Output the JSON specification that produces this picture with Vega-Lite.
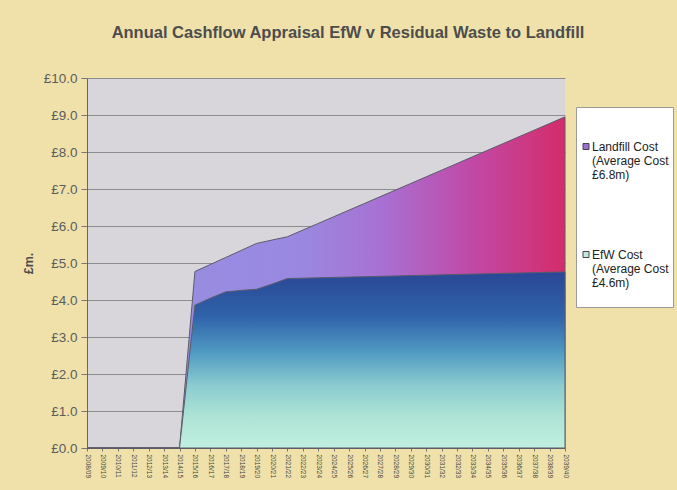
{
  "$schema": "https://vega.github.io/schema/vega-lite/v6.json",
  "autosize": "none",
  "width": 478,
  "height": 370,
  "padding": {"left": 87, "top": 78, "right": 112, "bottom": 42},
  "background": "#f0e1aa",
  "title": {
    "text": "Annual Cashflow Appraisal EfW v Residual Waste to Landfill",
    "anchor": "middle",
    "frame": "group",
    "dx": 22,
    "offset": 30,
    "font": "Liberation Sans",
    "fontSize": 16.5,
    "fontWeight": "bold",
    "color": "#4d4d4d"
  },
  "config": {
    "view": {"stroke": null, "fill": "#d8d6db"},
    "font": "Liberation Sans"
  },
  "data": {
    "values": [
      {"year": "2008/09", "series": "Landfill", "cost": 0},
      {"year": "2009/10", "series": "Landfill", "cost": 0},
      {"year": "2010/11", "series": "Landfill", "cost": 0},
      {"year": "2011/12", "series": "Landfill", "cost": 0},
      {"year": "2012/13", "series": "Landfill", "cost": 0},
      {"year": "2013/14", "series": "Landfill", "cost": 0},
      {"year": "2014/15", "series": "Landfill", "cost": 0},
      {"year": "2015/16", "series": "Landfill", "cost": 4.77},
      {"year": "2016/17", "series": "Landfill", "cost": 4.96},
      {"year": "2017/18", "series": "Landfill", "cost": 5.15},
      {"year": "2018/19", "series": "Landfill", "cost": 5.34},
      {"year": "2019/20", "series": "Landfill", "cost": 5.53},
      {"year": "2020/21", "series": "Landfill", "cost": 5.62},
      {"year": "2021/22", "series": "Landfill", "cost": 5.71},
      {"year": "2022/23", "series": "Landfill", "cost": 5.89},
      {"year": "2023/24", "series": "Landfill", "cost": 6.07},
      {"year": "2024/25", "series": "Landfill", "cost": 6.25},
      {"year": "2025/26", "series": "Landfill", "cost": 6.43},
      {"year": "2026/27", "series": "Landfill", "cost": 6.61},
      {"year": "2027/28", "series": "Landfill", "cost": 6.79},
      {"year": "2028/29", "series": "Landfill", "cost": 6.97},
      {"year": "2029/30", "series": "Landfill", "cost": 7.15},
      {"year": "2030/31", "series": "Landfill", "cost": 7.33},
      {"year": "2031/32", "series": "Landfill", "cost": 7.51},
      {"year": "2032/33", "series": "Landfill", "cost": 7.69},
      {"year": "2033/34", "series": "Landfill", "cost": 7.87},
      {"year": "2034/35", "series": "Landfill", "cost": 8.05},
      {"year": "2035/36", "series": "Landfill", "cost": 8.23},
      {"year": "2036/37", "series": "Landfill", "cost": 8.41},
      {"year": "2037/38", "series": "Landfill", "cost": 8.59},
      {"year": "2038/39", "series": "Landfill", "cost": 8.77},
      {"year": "2039/40", "series": "Landfill", "cost": 8.95},
      {"year": "2008/09", "series": "EfW", "cost": 0},
      {"year": "2009/10", "series": "EfW", "cost": 0},
      {"year": "2010/11", "series": "EfW", "cost": 0},
      {"year": "2011/12", "series": "EfW", "cost": 0},
      {"year": "2012/13", "series": "EfW", "cost": 0},
      {"year": "2013/14", "series": "EfW", "cost": 0},
      {"year": "2014/15", "series": "EfW", "cost": 0},
      {"year": "2015/16", "series": "EfW", "cost": 3.86},
      {"year": "2016/17", "series": "EfW", "cost": 4.05},
      {"year": "2017/18", "series": "EfW", "cost": 4.22},
      {"year": "2018/19", "series": "EfW", "cost": 4.26},
      {"year": "2019/20", "series": "EfW", "cost": 4.29},
      {"year": "2020/21", "series": "EfW", "cost": 4.43},
      {"year": "2021/22", "series": "EfW", "cost": 4.58},
      {"year": "2022/23", "series": "EfW", "cost": 4.59},
      {"year": "2023/24", "series": "EfW", "cost": 4.6},
      {"year": "2024/25", "series": "EfW", "cost": 4.61},
      {"year": "2025/26", "series": "EfW", "cost": 4.62},
      {"year": "2026/27", "series": "EfW", "cost": 4.63},
      {"year": "2027/28", "series": "EfW", "cost": 4.64},
      {"year": "2028/29", "series": "EfW", "cost": 4.65},
      {"year": "2029/30", "series": "EfW", "cost": 4.66},
      {"year": "2030/31", "series": "EfW", "cost": 4.67},
      {"year": "2031/32", "series": "EfW", "cost": 4.68},
      {"year": "2032/33", "series": "EfW", "cost": 4.69},
      {"year": "2033/34", "series": "EfW", "cost": 4.7},
      {"year": "2034/35", "series": "EfW", "cost": 4.71},
      {"year": "2035/36", "series": "EfW", "cost": 4.72},
      {"year": "2036/37", "series": "EfW", "cost": 4.73},
      {"year": "2037/38", "series": "EfW", "cost": 4.74},
      {"year": "2038/39", "series": "EfW", "cost": 4.75},
      {"year": "2039/40", "series": "EfW", "cost": 4.76}
    ]
  },
  "encoding": {
    "x": {
      "field": "year",
      "type": "ordinal",
      "sort": null,
      "scale": {"padding": 0},
      "axis": {
        "title": null,
        "labelAngle": 90,
        "labelFontSize": 6.5,
        "labelColor": "#454545",
        "labelPadding": 3,
        "tickSize": 3,
        "tickColor": "#777777",
        "domainColor": "#666666",
        "grid": false
      }
    },
    "y": {
      "field": "cost",
      "type": "quantitative",
      "scale": {"domain": [0, 10]},
      "axis": {
        "title": "£m.",
        "values": [0, 1, 2, 3, 4, 5, 6, 7, 8, 9, 10],
        "labelExpr": "'£' + format(datum.value, '.1f')",
        "labelFontSize": 13.5,
        "labelColor": "#5c5c5c",
        "labelPadding": 4,
        "tickSize": 6,
        "tickColor": "#777777",
        "domainColor": "#666666",
        "gridColor": "#8c8c8c",
        "gridWidth": 1,
        "titleFontSize": 12.5,
        "titleFontWeight": "bold",
        "titleColor": "#4d4d4d",
        "titlePadding": 8
      }
    }
  },
  "layer": [
    {
      "transform": [{"filter": "datum.series == 'Landfill'"}],
      "mark": {
        "type": "area",
        "fill": {
          "gradient": "linear",
          "x1": 0, "y1": 0, "x2": 1, "y2": 0,
          "stops": [
            {"offset": 0, "color": "#9590e2"},
            {"offset": 0.45, "color": "#9a88e0"},
            {"offset": 0.62, "color": "#a870d2"},
            {"offset": 0.8, "color": "#c04aa8"},
            {"offset": 1, "color": "#d42c6a"}
          ]
        },
        "stroke": "#5b5b6b",
        "strokeWidth": 1
      }
    },
    {
      "transform": [{"filter": "datum.series == 'EfW'"}],
      "mark": {
        "type": "area",
        "fill": {
          "gradient": "linear",
          "x1": 0, "y1": 0, "x2": 0, "y2": 1,
          "stops": [
            {"offset": 0, "color": "#2a4796"},
            {"offset": 0.25, "color": "#2f62a9"},
            {"offset": 0.45, "color": "#4f98c2"},
            {"offset": 0.65, "color": "#8ccdd0"},
            {"offset": 0.82, "color": "#ade3d5"},
            {"offset": 1, "color": "#c0efdf"}
          ]
        },
        "stroke": "#5b5b6b",
        "strokeWidth": 1
      }
    },
    {
      "mark": {"type": "square", "opacity": 0},
      "encoding": {
        "color": {
          "field": "series",
          "type": "nominal",
          "scale": {"domain": ["Landfill", "EfW"], "range": ["#9c6fd3", "#c2e9e1"]},
          "legend": {
            "orient": "none",
            "legendX": 489,
            "legendY": 29,
            "fillColor": "#ffffff",
            "strokeColor": "#9a9a9a",
            "padding": 4,
            "title": " ",
            "titleFontSize": 11,
            "titlePadding": 23,
            "symbolType": "M-1,-2.5H1V-0.5H-1Z",
            "symbolSize": 36,
            "symbolOpacity": 1,
            "symbolStrokeColor": "#444444",
            "symbolStrokeWidth": 1,
            "labelFont": "Liberation Sans",
            "labelFontSize": 12,
            "labelColor": "#222222",
            "labelBaseline": "alphabetic",
            "labelLineHeight": 13,
            "labelOffset": 0,
            "rowPadding": 54,
            "labelExpr": "datum.label == 'Landfill' ? ['Landfill Cost', '(Average Cost', '£6.8m)', ''] : ['EfW Cost', '(Average Cost', '£4.6m)', '']"
          }
        }
      }
    }
  ]
}
